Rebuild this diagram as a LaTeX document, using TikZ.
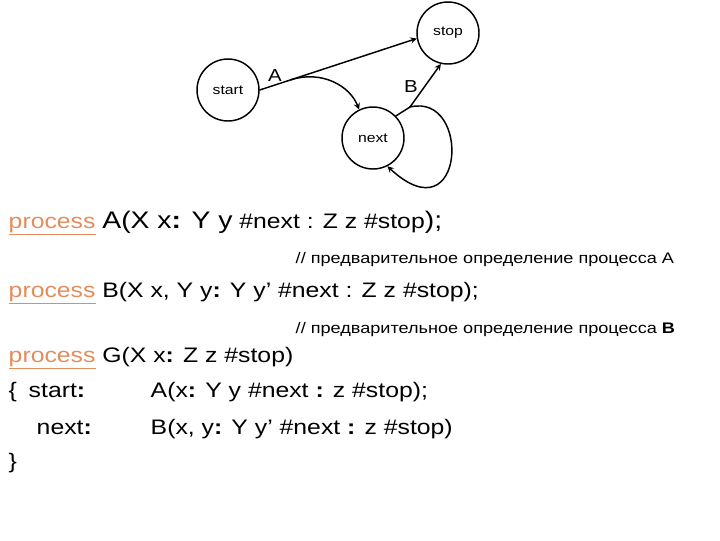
\documentclass[tikz,border=0pt]{standalone}
\usepackage{fontspec}
\setmainfont{Liberation Sans}[FakeStretch=1.18]
\usetikzlibrary{arrows}
\definecolor{proccol}{RGB}{228,140,90}
\newcommand{\proc}{\textcolor{proccol}{\underline{process}}}
\newcommand{\bigp}[1]{{\fontsize{18}{20}\selectfont #1}}
\begin{document}
\begin{tikzpicture}[x=0.75pt, y=-0.75pt, >=stealth, line join=round, line cap=round, line width=1.1pt,
	state/.style={draw, circle, minimum size=46.5pt, inner sep=0pt, font=\fontsize{10}{12}\selectfont},
	codeline/.style={anchor=base west, inner sep=0pt, font=\fontsize{15.75}{18}\selectfont},
	note/.style={anchor=base west, inner sep=0pt, font=\fontsize{11.5}{13}\selectfont},
	lab/.style={inner sep=0pt, font=\fontsize{13}{15}\selectfont}]
	\useasboundingbox (0,0) rectangle (720,540);
	% automat
	\node[state] (start) at (228,90) {start};
	\node[state] (stop) at (448,33) {stop};
	\node[state] (next) at (373,138) {next};
	\draw[->] (start.east) -- coordinate[pos=0.2] (forkA) (stop.190);
	\draw[->] (forkA) .. controls (322,70) and (350,86) .. (next.116);
	\coordinate (forkB) at (410,107);
	\draw (next.44) -- (forkB);
	\draw[->] (forkB) -- (stop.257);
	\draw[->] (forkB) .. controls (472,92) and (465,238) .. (next.-63);
	\node[lab] (labA) at (275,76) {A};
	\node[lab] (labB) at (411,87) {B};
	% text
	\node[codeline] (lineA) at (8,228) {\proc{} \bigp{A(X x\textbf{:} Y y} \#next : Z z \#stop\bigp{);}};
	\node[note] (noteA) at (295,263) {// предварительное определение процесса A};
	\node[codeline] (lineB) at (8,297) {\proc{} B(X x, Y y\textbf{:} Y y’ \#next : Z z \#stop);};
	\node[note] (noteB) at (295,333) {// предварительное определение процесса \textbf{B}};
	\node[codeline] (lineG) at (8,362) {\proc{} G(X x\textbf{:} Z z \#stop)};
	\node[codeline] (open) at (8,397) {\{};
	\node[codeline] (lstart) at (28,397) {start\textbf{:}};
	\node[codeline] (callA) at (150,397) {A(x\textbf{:} Y y \#next \textbf{:} z \#stop);};
	\node[codeline] (lnext) at (36,434) {next\textbf{:}};
	\node[codeline] (callB) at (150,434) {B(x, y\textbf{:} Y y’ \#next \textbf{:} z \#stop)};
	\node[codeline] (close) at (8,468) {\}};
\end{tikzpicture}
\end{document}
